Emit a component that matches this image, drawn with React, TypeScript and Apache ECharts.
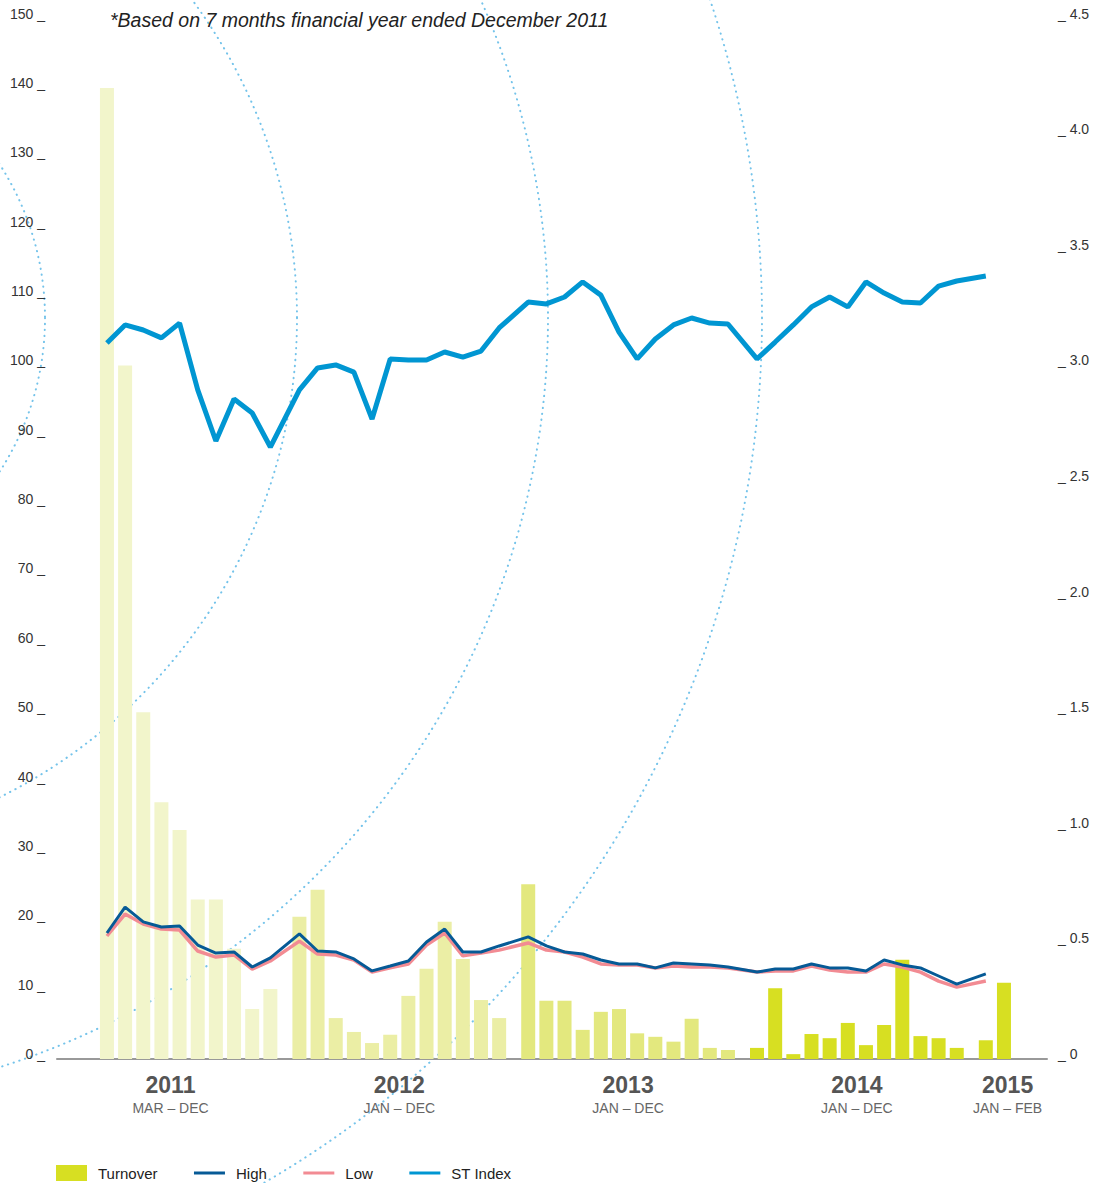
import React, { useEffect, useRef } from 'react';
import * as echarts from 'echarts';

// ---------- data ----------
const years = ['2011', '2012', '2013', '2014', '2015'];
const yearRanges = ['MAR – DEC', 'JAN – DEC', 'JAN – DEC', 'JAN – DEC', 'JAN – FEB'];
const monthsPerYear = [10, 12, 12, 12, 2];

// Turnover (left axis)
const turnover2011 = [140, 100, 50, 37, 33, 23, 23, 15.9, 7.2, 10.1];
const turnover2012 = [20.5, 24.4, 5.9, 3.9, 2.3, 3.5, 9.1, 13.0, 19.8, 14.4, 8.5, 5.9];
const turnover2013 = [25.2, 8.4, 8.4, 4.2, 6.8, 7.2, 3.7, 3.2, 2.5, 5.8, 1.6, 1.3];
const turnover2014 = [1.6, 10.2, 0.7, 3.6, 3.0, 5.2, 2.0, 4.9, 14.3, 3.3, 3.0, 1.6];
const turnover2015 = [2.7, 11.0];

// High (right axis)
const high2011 = [0.545, 0.657, 0.593, 0.571, 0.575, 0.493, 0.458, 0.463, 0.398, 0.437];
const high2012 = [0.541, 0.467, 0.463, 0.433, 0.381, 0.402, 0.424, 0.506, 0.562, 0.463, 0.463, 0.489];
const high2013 = [0.528, 0.489, 0.463, 0.454, 0.428, 0.411, 0.411, 0.394, 0.415, 0.411, 0.407, 0.398];
const high2014 = [0.376, 0.389, 0.389, 0.411, 0.394, 0.394, 0.381, 0.428, 0.407, 0.394, 0.359, 0.324];
const high2015 = [0.368];

// Low (right axis)
const low2011 = [0.532, 0.627, 0.584, 0.562, 0.558, 0.467, 0.441, 0.45, 0.389, 0.424];
const low2012 = [0.51, 0.454, 0.45, 0.428, 0.376, 0.394, 0.411, 0.493, 0.545, 0.446, 0.458, 0.471];
const low2013 = [0.502, 0.471, 0.463, 0.441, 0.411, 0.407, 0.407, 0.394, 0.402, 0.398, 0.398, 0.394];
const low2014 = [0.376, 0.381, 0.381, 0.402, 0.385, 0.376, 0.376, 0.411, 0.398, 0.376, 0.337, 0.311];
const low2015 = [0.337];

// ST Index (right axis, thousands)
const st2011 = [3.097, 3.175, 3.153, 3.119, 3.183, 2.894, 2.673, 2.855, 2.794, 2.647];
const st2012 = [2.894, 2.989, 3.002, 2.971, 2.768, 3.028, 3.023, 3.023, 3.058, 3.036, 3.062, 3.162];
const st2013 = [3.274, 3.266, 3.296, 3.361, 3.304, 3.144, 3.028, 3.114, 3.175, 3.205, 3.183, 3.179];
const st2014 = [3.028, 3.101, 3.175, 3.253, 3.296, 3.253, 3.361, 3.313, 3.274, 3.27, 3.343, 3.365];
const st2015 = [3.387];

const leftTicks = { min: 0, max: 150, interval: 10 };
const rightTicks = { min: 0, max: 4.5, interval: 0.5 };

// ---------- layout / style ----------
const YEAR_STEP = 1.6; // distance Dec -> next Jan in month slots
const yearLabelPos = [3.5, 16.1, 28.7, 41.3, 49.6];
const yearColors = ['#f2f5cb', '#ebeea5', '#e3e87e', '#d7df22', '#d7df22'];
const circleRadii = [283, 535, 786, 1000];
const NARROW = "'Liberation Sans Narrow', 'Arial Narrow', 'Liberation Sans', Arial, sans-serif";
const SANS = "'Liberation Sans', Arial, sans-serif";

function buildPositions() {
  const pos: number[] = [];
  const yearOf: number[] = [];
  let p = 0;
  monthsPerYear.forEach((n, yi) => {
    if (yi > 0) p += YEAR_STEP - 1;
    for (let i = 0; i < n; i++) {
      pos.push(p);
      yearOf.push(yi);
      p += 1;
    }
  });
  return { pos, yearOf };
}

const hiddenSymbol = { color: 'rgba(0,0,0,0)', borderWidth: 0, opacity: 0 };

export default function App() {
  const ref = useRef<HTMLDivElement>(null);
  useEffect(() => {
    if (!ref.current) return;
    const chart = echarts.init(ref.current, undefined, { renderer: 'svg' });
    const { pos, yearOf } = buildPositions();
    const turnover = [...turnover2011, ...turnover2012, ...turnover2013, ...turnover2014, ...turnover2015];
    const high = [...high2011, ...high2012, ...high2013, ...high2014, ...high2015];
    const low = [...low2011, ...low2012, ...low2013, ...low2014, ...low2015];
    const st = [...st2011, ...st2012, ...st2013, ...st2014, ...st2015];

    const barData = turnover.map((v, i) => ({
      value: [pos[i], v],
      itemStyle: { color: yearColors[yearOf[i]] },
    }));
    const toLine = (arr: number[]) => arr.map((v, i) => [pos[i], v]);

    const option: any = {
      animation: false,
      title: {
        text: '*Based on 7 months financial year ended December 2011',
        left: 110,
        top: 9,
        padding: 0,
        textStyle: {
          fontSize: 19.5,
          fontStyle: 'italic',
          fontWeight: 'normal',
          color: '#222',
          fontFamily: SANS,
          lineHeight: 22,
        },
      },
      legend: {
        left: 56,
        top: 1165,
        padding: 0,
        itemWidth: 31,
        itemHeight: 16,
        itemGap: 35,
        selectedMode: false,
        textStyle: { fontSize: 15, color: '#222', fontFamily: NARROW, padding: [0, 0, 0, 6] },
        data: [
          { name: 'Turnover', icon: 'rect' },
          { name: 'High', lineStyle: { width: 3 }, itemStyle: hiddenSymbol },
          { name: 'Low', lineStyle: { width: 3 }, itemStyle: hiddenSymbol },
          { name: 'ST Index', lineStyle: { width: 3 }, itemStyle: hiddenSymbol },
        ],
      },
      graphic: circleRadii.map((r) => ({
        type: 'circle',
        silent: true,
        z: 0,
        shape: { cx: -238, cy: 318, r },
        style: { fill: 'none', stroke: '#74c3ea', lineWidth: 2, lineDash: [0.3, 5.7], lineCap: 'round' },
      })),
      grid: { left: 57, right: 50, top: 18.6, bottom: 124, containLabel: false },
      xAxis: {
        type: 'value',
        min: -2.75,
        max: 51.77,
        splitLine: { show: false },
        axisTick: { show: false },
        axisLine: { show: true, lineStyle: { color: '#999', width: 2 } },
        axisLabel: {
          show: true,
          customValues: yearLabelPos,
          margin: 13,
          formatter: (v: number) => {
            const i = yearLabelPos.findIndex((p) => Math.abs(p - v) < 0.01);
            if (i < 0) return '';
            return `{y|${years[i]}}\n{m|${yearRanges[i]}}`;
          },
          rich: {
            y: { fontSize: 23, fontWeight: 'bold', color: '#555', fontFamily: SANS, lineHeight: 26, align: 'center' },
            m: { fontSize: 14, color: '#666', fontFamily: NARROW, lineHeight: 20, align: 'center' },
          },
        },
      },
      yAxis: [
        {
          type: 'value',
          position: 'left',
          ...leftTicks,
          splitLine: { show: false },
          axisTick: { show: false },
          axisLine: { show: false },
          axisLabel: {
            formatter: (v: number) => `${v} _`,
            fontSize: 14,
            color: '#333',
            fontFamily: SANS,
            margin: 12,
            verticalAlign: 'bottom',
            lineHeight: 10,
          },
        },
        {
          type: 'value',
          position: 'right',
          ...rightTicks,
          splitLine: { show: false },
          axisTick: { show: false },
          axisLine: { show: false },
          axisLabel: {
            formatter: (v: number) => `_ ${v === 0 ? '0' : v.toFixed(1)}`,
            fontSize: 14,
            color: '#333',
            fontFamily: SANS,
            margin: 11,
            verticalAlign: 'bottom',
            lineHeight: 10,
          },
        },
      ],
      series: [
        {
          name: 'Turnover',
          type: 'bar',
          yAxisIndex: 0,
          barWidth: 14,
          z: 2,
          itemStyle: { color: '#d7df22' },
          data: barData,
        },
        {
          name: 'Low',
          type: 'line',
          yAxisIndex: 1,
          symbol: 'none',
          z: 3,
          lineStyle: { color: '#f28b93', width: 3.5 },
          itemStyle: { color: '#f28b93' },
          data: toLine(low),
        },
        {
          name: 'High',
          type: 'line',
          yAxisIndex: 1,
          symbol: 'none',
          z: 4,
          lineStyle: { color: '#065a96', width: 3 },
          itemStyle: { color: '#065a96' },
          data: toLine(high),
        },
        {
          name: 'ST Index',
          type: 'line',
          yAxisIndex: 1,
          symbol: 'none',
          z: 5,
          lineStyle: { color: '#0096d2', width: 5 },
          itemStyle: { color: '#0096d2' },
          data: toLine(st),
        },
      ],
    };
    chart.setOption(option);
    return () => chart.dispose();
  }, []);
  return (
    <div
      ref={ref}
      style={{ position: 'fixed', left: 0, top: 0, width: 1097, height: 1183, background: '#fff' }}
    />
  );
}
